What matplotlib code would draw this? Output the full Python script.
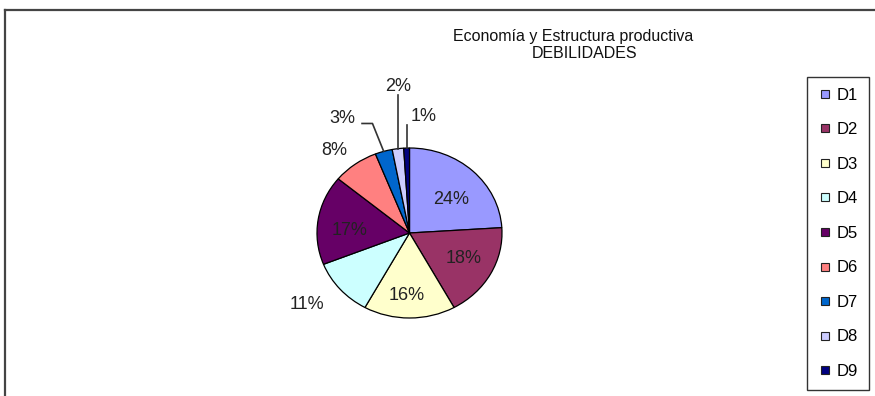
import numpy as np
import matplotlib
matplotlib.use("Agg")
import matplotlib.pyplot as plt
from matplotlib.lines import Line2D

plt.rcParams["font.family"] = ["Liberation Sans", "DejaVu Sans"]

categories = ["D1", "D2", "D3", "D4", "D5", "D6", "D7", "D8", "D9"]
shares     = [24, 18, 16, 11, 17, 8, 3, 2, 1]
colors     = ["#9999FF", "#993366", "#FFFFCC", "#CCFFFF", "#660066",
              "#FF8080", "#0066CC", "#CCCCFF", "#000080"]
title_1    = "Economía y Estructura productiva"
title_2    = "DEBILIDADES"

# label placement (distance from centre in radii, angle nudge in degrees)
label_r    = [0.60, 0.66, 0.73, 1.39, 0.65, 1.27, 1.53, 1.73, 1.38]
label_dang = [-6, 2, -2, -4, 6, 4, 12, -3, -8]
# leader line kind: None, "knee" or "vertical"
leader     = [None, None, None, None, None, None, "knee", "vertical", "vertical"]

W, H = 875, 396
fig = plt.figure(figsize=(W / 100, H / 100), dpi=100)

# pie axes: ellipse 185 x 170 px centred at (409.5, 233)
cx, cy, rx, ry = 409.5, 233, 92.5, 85
span = 2.0
ax = fig.add_axes([(cx - rx * span) / W, 1 - (cy + ry * span) / H,
                   2 * rx * span / W, 2 * ry * span / H])
wedges, _ = ax.pie(shares, colors=colors, startangle=90, counterclock=False,
                   wedgeprops=dict(edgecolor="black", linewidth=0.9))
ax.set_aspect("auto")
ax.set_xlim(-span, span)
ax.set_ylim(-span, span)
ax.axis("off")

lbl_kw = dict(ha="center", va="center", fontsize=13, color="#222222")
line_kw = dict(color="#333333", lw=1.2)
total = float(sum(shares))
for w, v, r, da, ld in zip(wedges, shares, label_r, label_dang, leader):
    mid = np.radians(0.5 * (w.theta1 + w.theta2))
    ang = mid + np.radians(da)
    lx, ly = r * np.cos(ang), r * np.sin(ang)
    ax.text(lx, ly, "%d%%" % round(100 * v / total), **lbl_kw)
    ex, ey = np.cos(mid), np.sin(mid)
    if ld == "knee":
        sx, sy = lx + 0.21, ly - 0.06
        kx = ex - 0.37 * (sy - ey)
        ax.add_line(Line2D([sx, kx, ex], [sy, sy, ey], **line_kw))
    elif ld == "vertical":
        ax.add_line(Line2D([ex, ex], [ey, ly - 0.1], **line_kw))

fig.text(573.5 / W, 1 - 37 / H, title_1, ha="center", va="center",
         fontsize=11.5, color="#111111")
fig.text(585 / W, 1 - 53 / H, title_2, ha="center", va="center",
         fontsize=11.5, color="#111111")

handles = [Line2D([], [], ls="none", marker="s", markersize=5.2,
                  markerfacecolor=c, markeredgecolor="#222222", markeredgewidth=0.8)
           for c in colors]
leg = fig.legend(handles, categories, loc="upper left",
                 bbox_to_anchor=(807 / W, 1 - 77 / H),
                 frameon=True, fancybox=False, fontsize=12,
                 handlelength=0.91, handletextpad=0.2,
                 labelspacing=1.17, borderpad=0.65, borderaxespad=0)
leg.get_frame().set_edgecolor("black")
leg.get_frame().set_linewidth(1.0)

# outer chart frame (runs off the right and bottom edges)
fig.add_artist(Line2D([5 / W, 1.0], [1 - 10 / H, 1 - 10 / H],
                      transform=fig.transFigure, color="#444444", lw=1.6))
fig.add_artist(Line2D([5 / W, 5 / W], [1 - 10 / H, 0.0],
                      transform=fig.transFigure, color="#444444", lw=1.6))

fig.savefig("out.png", dpi=100, facecolor="white")
